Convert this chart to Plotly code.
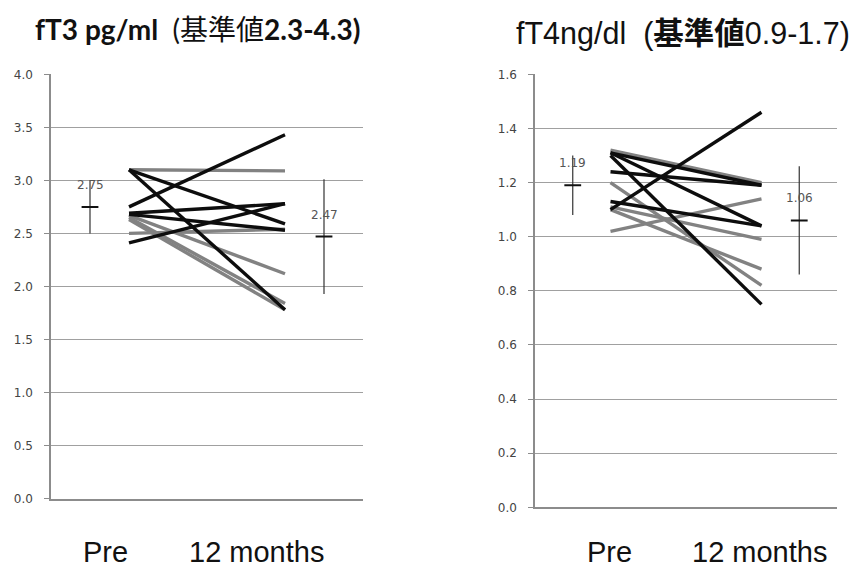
import plotly.graph_objects as go

# ---------------- data ----------------
categories = ["Pre", "12 months"]

# fT3 (pg/ml): individual patients, Pre -> 12 months
ft3_pre = [3.10, 3.10, 3.10, 2.75, 2.69, 2.68, 2.67, 2.65, 2.63, 2.50, 2.41]
ft3_12m = [3.09, 2.59, 1.78, 3.43, 2.78, 2.53, 2.12, 1.84, 1.78, 2.54, 2.78]
ft3_shade = ["gray", "black", "black", "black", "black", "black",
             "gray", "gray", "gray", "gray", "black"]
ft3_mean = [2.75, 2.47]
ft3_sd = [0.25, 0.54]
ft3_mean_labels = ["2.75", "2.47"]

# fT4 (ng/dl)
ft4_pre = [1.32, 1.31, 1.31, 1.30, 1.24, 1.20, 1.13, 1.10, 1.11, 1.10, 1.02]
ft4_12m = [1.20, 1.19, 1.04, 0.75, 1.19, 0.82, 1.04, 1.46, 0.99, 0.88, 1.14]
ft4_shade = ["gray", "black", "black", "black", "black", "gray",
             "black", "black", "gray", "gray", "gray"]
ft4_mean = [1.19, 1.06]
ft4_sd = [0.11, 0.20]
ft4_mean_labels = ["1.19", "1.06"]

ft3_ticks = [0.0, 0.5, 1.0, 1.5, 2.0, 2.5, 3.0, 3.5, 4.0]
ft4_ticks = [0.0, 0.2, 0.4, 0.6, 0.8, 1.0, 1.2, 1.4, 1.6]

# ---------------- layout constants ----------------
LINE_X = [2, 6]      # slot of the individual lines
MEAN_X = [1, 7]      # slot of the mean +/- SD markers
COLORS = {"gray": "#828282", "black": "#0d0d0d"}

W, H = 858, 570
fig = go.Figure()


def add_panel(pre, post, shade, mean, sd, labels, xa, ya):
    order = [i for i in range(len(pre)) if shade[i] == "gray"] + \
            [i for i in range(len(pre)) if shade[i] == "black"]
    for i in order:
        fig.add_trace(go.Scatter(
            x=LINE_X, y=[pre[i], post[i]], mode="lines",
            line=dict(color=COLORS[shade[i]], width=3.4),
            xaxis=xa, yaxis=ya, showlegend=False, hoverinfo="skip"))
    fig.add_trace(go.Scatter(
        x=MEAN_X, y=mean, mode="markers",
        marker=dict(symbol="line-ew", size=12,
                    line=dict(color="#111111", width=2)),
        error_y=dict(type="data", array=sd, visible=True,
                     color="#333333", thickness=1.2, width=0),
        xaxis=xa, yaxis=ya, showlegend=False, hoverinfo="skip"))
    for xm, ym, t in zip(MEAN_X, mean, labels):
        fig.add_annotation(x=xm, y=ym, xref=xa, yref=ya, text=t,
                           showarrow=False, yshift=22,
                           font=dict(family="DejaVu Sans", size=12,
                                     color="#555555"))


add_panel(ft3_pre, ft3_12m, ft3_shade, ft3_mean, ft3_sd,
          ft3_mean_labels, "x", "y")
add_panel(ft4_pre, ft4_12m, ft4_shade, ft4_mean, ft4_sd,
          ft4_mean_labels, "x2", "y2")

xcommon = dict(range=[0, 8], showgrid=False, zeroline=False,
               showticklabels=False, ticks="", showline=True,
               linecolor="#8c8c8c", linewidth=1.5, fixedrange=True)
ycommon = dict(showgrid=True, gridcolor="#a0a0a0", gridwidth=1,
               zeroline=False, showline=True, linecolor="#8c8c8c",
               linewidth=1.5, ticks="outside", ticklen=5,
               tickcolor="#8c8c8c", tickformat=".1f",
               ticklabelstandoff=9, fixedrange=True,
               tickfont=dict(family="DejaVu Sans", size=12,
                             color="#444444"))

fig.update_layout(
    width=W, height=H,
    margin=dict(l=0, r=0, t=0, b=0),
    paper_bgcolor="white", plot_bgcolor="white",
    xaxis=dict(domain=[51 / W, 363 / W], anchor="y", **xcommon),
    yaxis=dict(domain=[(H - 504) / H, (H - 69) / H], anchor="x",
               range=[0, 4], tickvals=ft3_ticks, **ycommon),
    xaxis2=dict(domain=[535 / W, 837 / W], anchor="y2", **xcommon),
    yaxis2=dict(domain=[(H - 513) / H, (H - 69) / H], anchor="x2",
                range=[0, 1.6], tickvals=ft4_ticks, **ycommon),
)

# titles
fig.add_annotation(
    x=197 / W, y=1 - 23 / H, xref="paper", yref="paper",
    text="<b>fT3 pg/ml</b>  (基準値<b>2.3-4.3)</b>", showarrow=False,
    xanchor="center", yanchor="middle",
    font=dict(family="Lato, Noto Sans CJK JP", size=28, color="#111111"))
fig.add_annotation(
    x=683 / W, y=1 - 27 / H, xref="paper", yref="paper",
    text="fT4ng/dl  (<b>基準値</b>0.9-1.7)", showarrow=False,
    xanchor="center", yanchor="middle",
    font=dict(family="Liberation Sans, Noto Sans CJK JP", size=30.5,
              color="#111111"))

# category labels under each panel
cat_centers = [[105, 256], [609, 759]]
for centers in cat_centers:
    for cx, label in zip(centers, categories):
        fig.add_annotation(
            x=cx / W, y=1 - 559 / H, xref="paper", yref="paper",
            text=label, showarrow=False, xanchor="center", yanchor="middle",
            font=dict(family="Liberation Sans", size=29, color="#111111"))

fig.write_html(
    "out.html",
    config={"displayModeBar": False},
    post_script="document.body.style.margin='0px';"
                "document.body.style.overflow='hidden';",
)
